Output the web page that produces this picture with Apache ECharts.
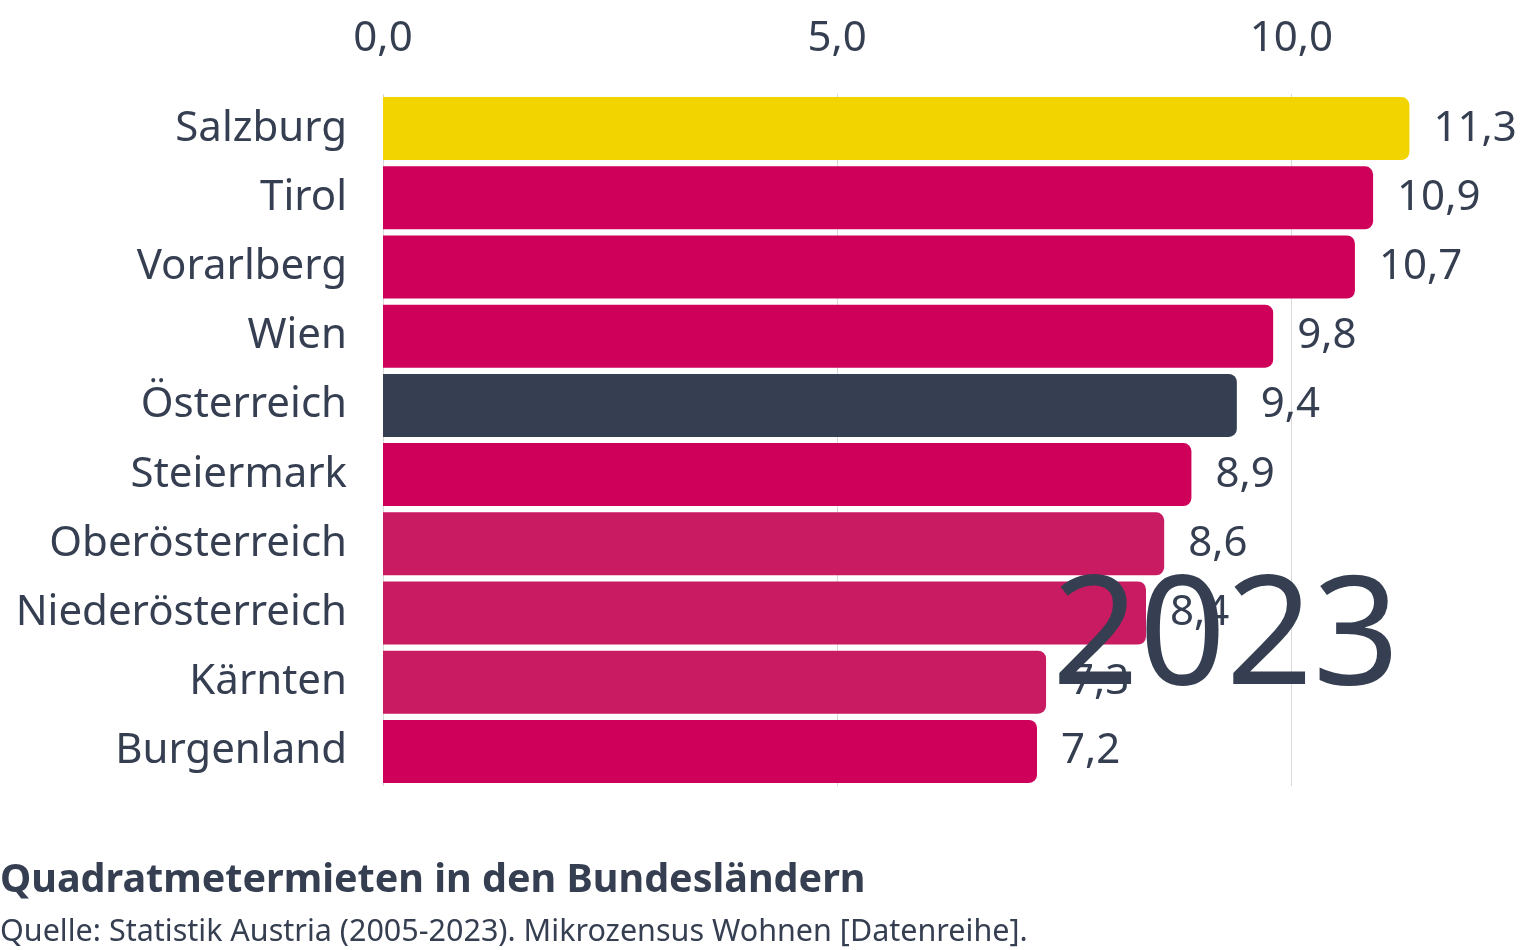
<!DOCTYPE html>
<html>
<head>
<meta charset="utf-8">
<script src="https://cdn.jsdelivr.net/npm/echarts@6/dist/echarts.min.js"></script>
<style>
html,body{margin:0;padding:0;background:#fff;}
#chart{width:1540px;height:950px;}
</style>
</head>
<body>
<div id="chart"></div>
<script>
const categories = ["Salzburg","Tirol","Vorarlberg","Wien","Österreich","Steiermark","Oberösterreich","Niederösterreich","Kärnten","Burgenland"];
const values = [11.3,10.9,10.7,9.8,9.4,8.9,8.6,8.4,7.3,7.2];
const yearLabel = "2023";
const titleText = "Quadratmetermieten in den Bundesländern";
const sourceText = "Quelle: Statistik Austria (2005-2023). Mikrozensus Wohnen [Datenreihe].";

const barColors = ["#f2d500","#cf0059","#cf0059","#cf0059","#353f51","#cf0059","#c91b62","#c91b62","#c91b62","#cf0059"];
const FONT = "Noto Sans";
const TXT = "#353f51";

const chart = echarts.init(document.getElementById('chart'));
chart.setOption({
  animation:false,
  backgroundColor:'#fff',
  grid:{left:383, right:67, top:94, height:692, containLabel:false},
  xAxis:{
    type:'value', position:'top', min:0, max:12, interval:5,
    axisLine:{show:false}, axisTick:{show:false},
    splitLine:{show:true, showMaxLine:false, lineStyle:{color:'#d9d9d9', width:1}},
    axisLabel:{fontFamily:FONT, fontSize:42, color:TXT, margin:34, showMaxLabel:false,
      formatter:v=>(v % 5 === 0 ? v.toFixed(1).replace('.',',') : '')}
  },
  yAxis:{
    type:'category', data:categories, inverse:true,
    axisLine:{show:false}, axisTick:{show:false},
    axisLabel:{fontFamily:FONT, fontSize:42, color:TXT, margin:36}
  },
  series:[{
    type:'bar', barCategoryGap:'9%',
    data:values.map((v,i)=>({value:v, itemStyle:{color:barColors[i], borderRadius:[0,8,8,0]}})),
    label:{show:true, position:'right', distance:24, fontFamily:FONT, fontSize:42, color:TXT,
      formatter:p=>p.value.toFixed(1).replace('.',',')}
  }],
  graphic:[
    {type:'text', left:1052, top:565, z:100,
      style:{text:yearLabel, fontFamily:FONT, fontSize:152, fill:TXT}},
    {type:'text', left:0, top:861,
      style:{text:titleText, fontFamily:FONT, fontWeight:'bold', fontSize:39.5, fill:TXT}},
    {type:'text', left:0, top:917,
      style:{text:sourceText, fontFamily:FONT, fontSize:30.5, fill:TXT}}
  ]
});
</script>
</body>
</html>
